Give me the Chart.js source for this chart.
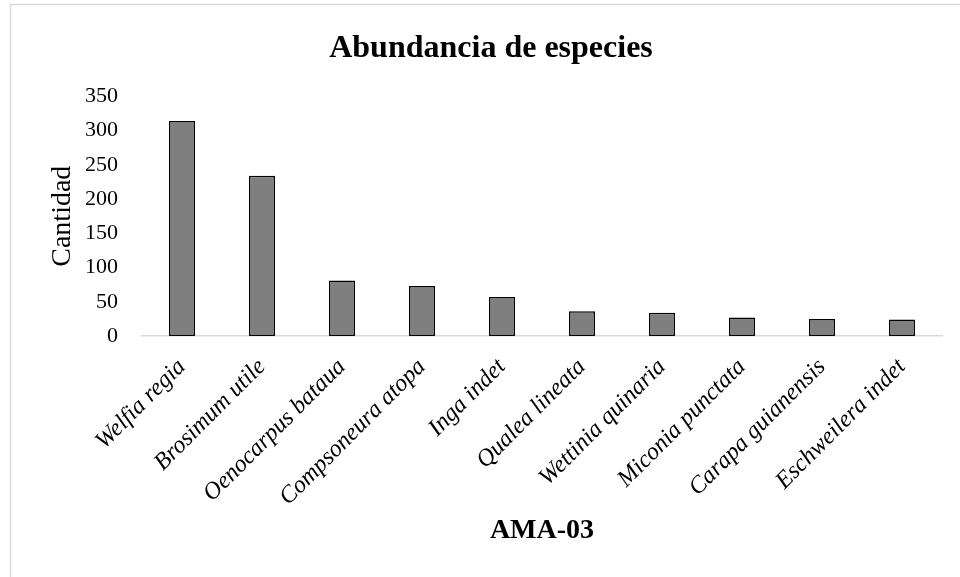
<!DOCTYPE html>
<html>
<head>
<meta charset="utf-8">
<script src="https://cdn.jsdelivr.net/npm/chart.js@4"></script>
<style>
html,body{margin:0;padding:0;background:#fff;}
#wrap{position:relative;width:960px;height:577px;}
</style>
</head>
<body>
<div id="wrap"><canvas id="c" width="960" height="577"></canvas></div>
<script>
const categories = ["Welfia regia","Brosimum utile","Oenocarpus bataua","Compsoneura atopa","Inga indet","Qualea lineata","Wettinia quinaria","Miconia punctata","Carapa guianensis","Eschweilera indet"];
const cantidad = [314, 234, 81, 73, 57, 36, 34, 27, 25, 24];
const yTicks = [0, 50, 100, 150, 200, 250, 300, 350];

const SERIF = '"Liberation Serif","Times New Roman",serif';

const framePlugin = {
  id: 'frame',
  beforeDraw(chart) {
    const ctx = chart.ctx;
    ctx.save();
    ctx.strokeStyle = '#d9d9d9';
    ctx.lineWidth = 1.5;
    ctx.beginPath();
    ctx.moveTo(10.5, 600);
    ctx.lineTo(10.5, 4.5);
    ctx.lineTo(980, 4.5);
    ctx.stroke();
    ctx.restore();
  }
};

new Chart(document.getElementById('c'), {
  type: 'bar',
  data: {
    labels: categories,
    datasets: [{
      data: cantidad,
      backgroundColor: '#7f7f7f',
      borderColor: '#000000',
      borderWidth: 1.5,
      borderSkipped: false,
      categoryPercentage: 1,
      barPercentage: 0.325
    }]
  },
  options: {
    responsive: false,
    animation: false,
    devicePixelRatio: 1,
    layout: { padding: { left: 40, right: 18, top: 20, bottom: 20 } },
    plugins: {
      legend: { display: false },
      tooltip: { enabled: false },
      title: {
        display: true,
        text: 'Abundancia de especies',
        color: '#000',
        font: { family: SERIF, size: 32, weight: 'bold' },
        padding: { top: 10, bottom: 28 }
      }
    },
    scales: {
      x: {
        grid: { display: false },
        border: { display: true, color: '#d9d9d9', width: 1.5 },
        ticks: {
          color: '#000',
          font: { family: SERIF, size: 24, style: 'italic' },
          minRotation: 45,
          maxRotation: 45,
          padding: 9
        },
        title: {
          display: true,
          text: 'AMA-03',
          color: '#000',
          font: { family: SERIF, size: 28, weight: 'bold' },
          padding: { top: 0, bottom: 9 }
        },
        afterFit(scale) { scale.height = 221; }
      },
      y: {
        min: 0,
        max: 350,
        grid: { display: false },
        border: { display: false },
        afterBuildTicks(scale) { scale.ticks = yTicks.map(v => ({ value: v })); },
        ticks: {
          color: '#000',
          font: { family: SERIF, size: 22 },
          padding: 16
        },
        title: {
          display: true,
          text: 'Cantidad',
          color: '#000',
          font: { family: SERIF, size: 28 },
          padding: { top: 6, bottom: 0 }
        },
        afterFit(scale) { scale.width = 102; }
      }
    }
  },
  plugins: [framePlugin]
});
</script>
</body>
</html>
